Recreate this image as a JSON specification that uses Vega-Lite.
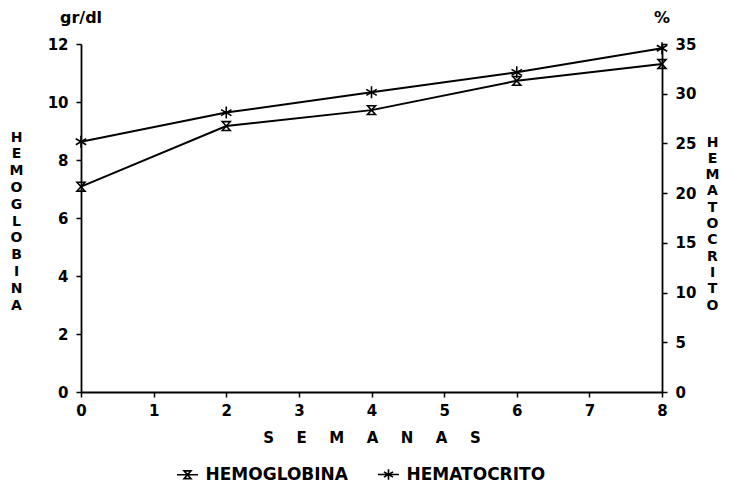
{
  "$schema": "https://vega.github.io/schema/vega-lite/v6.json",
  "width": 581,
  "height": 348,
  "autosize": {"type": "none"},
  "padding": {"left": 81, "top": 44, "right": 72, "bottom": 103},
  "background": "white",
  "config": {
    "view": {"stroke": null},
    "font": "DejaVu Sans",
    "axis": {
      "grid": false,
      "labelFlush": false,
      "domainColor": "black",
      "domainWidth": 1.8,
      "tickColor": "black",
      "tickWidth": 1.5,
      "tickSize": 5,
      "labelFont": "DejaVu Sans",
      "labelFontWeight": "bold",
      "labelFontSize": 15,
      "labelColor": "black",
      "titleFont": "DejaVu Sans",
      "titleFontWeight": "bold",
      "titleFontSize": 14,
      "titleColor": "black"
    },
    "legend": {
      "labelFont": "DejaVu Sans",
      "labelFontWeight": "bold",
      "labelFontSize": 17,
      "labelColor": "black"
    }
  },
  "datasets": {
    "d": [
      {"semana": 0, "serie": "HEMOGLOBINA", "valor": 7.08},
      {"semana": 2, "serie": "HEMOGLOBINA", "valor": 9.17},
      {"semana": 4, "serie": "HEMOGLOBINA", "valor": 9.72},
      {"semana": 6, "serie": "HEMOGLOBINA", "valor": 10.73},
      {"semana": 8, "serie": "HEMOGLOBINA", "valor": 11.31},
      {"semana": 0, "serie": "HEMATOCRITO", "valor": 25.17},
      {"semana": 2, "serie": "HEMATOCRITO", "valor": 28.1},
      {"semana": 4, "serie": "HEMATOCRITO", "valor": 30.14},
      {"semana": 6, "serie": "HEMATOCRITO", "valor": 32.15},
      {"semana": 8, "serie": "HEMATOCRITO", "valor": 34.57}
    ],
    "unidades": [
      {"t": "gr/dl", "eje": "izq"},
      {"t": "%", "eje": "der"}
    ]
  },
  "data": {"name": "d"},
  "layer": [
    {
      "layer": [
        {
          "transform": [{"filter": "datum.serie === 'HEMOGLOBINA'"}],
          "mark": {"type": "line", "color": "black", "strokeWidth": 2},
          "encoding": {
            "x": {
              "field": "semana",
              "type": "quantitative",
              "scale": {"domain": [0, 8], "nice": false, "zero": false},
              "axis": {
                "values": [0, 1, 2, 3, 4, 5, 6, 7, 8],
                "format": "d",
                "labelPadding": 6,
                "title": "S\u2002\u2002\u2002E\u2002\u2002\u2002M\u2002\u2002\u2002A\u2002\u2002\u2002N\u2002\u2002\u2002A\u2002\u2002\u2002S",
                "titleY": 45,
                "titleBaseline": "middle",
                "titleFontSize": 15
              }
            },
            "y": {
              "field": "valor",
              "type": "quantitative",
              "scale": {"domain": [0, 12], "nice": false},
              "axis": {
                "orient": "left",
                "values": [0, 2, 4, 6, 8, 10, 12],
                "format": "d",
                "labelPadding": 8,
                "title": ["H", "E", "M", "O", "G", "L", "O", "B", "I", "N", "A"],
                "titleAngle": 0,
                "titleX": -65,
                "titleY": 93,
                "titleAlign": "center",
                "titleBaseline": "middle",
                "titleLineHeight": 16.8
              }
            }
          }
        },
        {
          "transform": [{"filter": "datum.serie === 'HEMOGLOBINA'"}],
          "mark": {"type": "point", "filled": false, "color": "black", "strokeWidth": 1.6, "size": 64, "opacity": 1, "shape": "M-1,-1.1H1L-1,1.1H1Z"},
          "encoding": {
            "x": {"field": "semana", "type": "quantitative"},
            "y": {"field": "valor", "type": "quantitative"}
          }
        },
        {
          "transform": [{"filter": "datum.serie === 'HEMOGLOBINA'"}],
          "mark": {"type": "point", "filled": false, "color": "black", "strokeWidth": 1.6, "size": 49, "opacity": 0},
          "encoding": {
            "x": {"field": "semana", "type": "quantitative"},
            "y": {"field": "valor", "type": "quantitative"},
            "shape": {
              "field": "serie",
              "type": "nominal",
              "scale": {
                "domain": ["HEMOGLOBINA", "HEMATOCRITO"],
                "range": ["M-3,0H3M-1,-1.1H1L-1,1.1H1Z", "M-3,0H3M0,-1.5V1.5M-1.3,-0.75L1.3,0.75M-1.3,0.75L1.3,-0.75"]
              },
              "legend": {
                "title": null,
                "orient": "none",
                "direction": "horizontal",
                "values": ["HEMOGLOBINA", "HEMATOCRITO"],
                "legendX": 98,
                "legendY": 422,
                "symbolSize": 49,
                "symbolOpacity": 1,
                "symbolStrokeWidth": 1.6,
                "symbolStrokeColor": "black",
                "symbolFillColor": "transparent",
                "labelOffset": 9.5,
                "columnPadding": 25
              }
            }
          }
        },
        {
          "data": {"name": "unidades"},
          "transform": [{"filter": "datum.eje === 'izq'"}],
          "mark": {"type": "text", "font": "DejaVu Sans", "fontWeight": "bold", "fontSize": 16, "color": "black", "align": "center", "baseline": "middle"},
          "encoding": {
            "text": {"field": "t", "type": "nominal"},
            "x": {"datum": 0},
            "y": {"datum": 12.9}
          }
        }
      ]
    },
    {
      "layer": [
        {
          "transform": [{"filter": "datum.serie === 'HEMATOCRITO'"}],
          "mark": {"type": "line", "color": "black", "strokeWidth": 2},
          "encoding": {
            "x": {"field": "semana", "type": "quantitative"},
            "y": {
              "field": "valor",
              "type": "quantitative",
              "scale": {"domain": [0, 35], "nice": false},
              "axis": {
                "orient": "right",
                "values": [0, 5, 10, 15, 20, 25, 30, 35],
                "format": "d",
                "labelPadding": 8,
                "title": ["H", "E", "M", "A", "T", "O", "C", "R", "I", "T", "O"],
                "titleAngle": 0,
                "titleX": 50,
                "titleY": 98,
                "titleAlign": "center",
                "titleBaseline": "middle",
                "titleLineHeight": 16.3
              }
            }
          }
        },
        {
          "transform": [{"filter": "datum.serie === 'HEMATOCRITO'"}],
          "mark": {"type": "point", "filled": false, "color": "black", "strokeWidth": 1.6, "size": 144, "opacity": 1, "shape": "M0,-1V1M-0.87,-0.5L0.87,0.5M-0.87,0.5L0.87,-0.5"},
          "encoding": {
            "x": {"field": "semana", "type": "quantitative"},
            "y": {"field": "valor", "type": "quantitative"}
          }
        },
        {
          "data": {"name": "unidades"},
          "transform": [{"filter": "datum.eje === 'der'"}],
          "mark": {"type": "text", "font": "DejaVu Sans", "fontWeight": "bold", "fontSize": 16, "color": "black", "align": "center", "baseline": "middle"},
          "encoding": {
            "text": {"field": "t", "type": "nominal"},
            "x": {"datum": 8},
            "y": {"datum": 37.6}
          }
        }
      ]
    }
  ],
  "resolve": {"scale": {"y": "independent"}}
}
